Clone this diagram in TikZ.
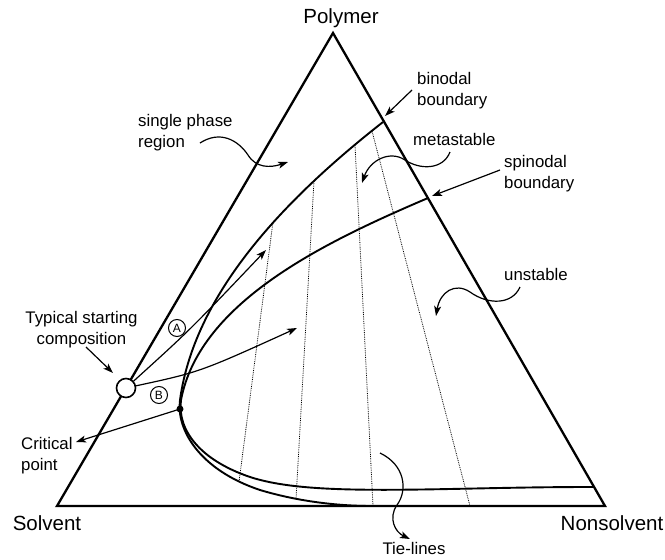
\documentclass[tikz,border=0pt]{standalone}
\usepackage{fontspec}
\setmainfont{Liberation Sans}
\usetikzlibrary{arrows.meta}

\tikzset{
  side/.style={line width=2.3pt},
  boundary/.style={line width=1.9pt},
  tieline/.style={densely dotted, line width=0.8pt},
  pointer/.style={line width=1.2pt, -{Stealth[length=10pt,width=7pt,inset=2.5pt]}},
  vertexlabel/.style={font=\fontsize{20.5}{24}\selectfont, inner sep=0pt},
  note/.style={font=\fontsize{16.8}{20.5}\selectfont, align=left, inner sep=0pt},
  pathmark/.style={circle, draw, line width=1pt, inner sep=0pt, minimum size=17pt, font=\fontsize{12}{12}\selectfont},
}

\begin{document}
\begin{tikzpicture}[x=1pt, y=-1pt]
    \useasboundingbox (0,0) rectangle (665,560);

    % Corners
    \coordinate (S) at (57,506);
    \coordinate (N) at (605,506);
    \coordinate (P) at (333,33);

    % Triangle
    \draw[side] (S) -- (P) -- (N) -- cycle;

    % Corner labels
    \node[vertexlabel, anchor=base] (polymer) at (341,23) {Polymer};
    \node[vertexlabel, anchor=base] (solvent) at (47,530) {Solvent};
    \node[vertexlabel, anchor=base] (nonsolvent) at (612,530) {Nonsolvent};

    % Tie-lines
    \draw[tieline] (273,222) -- (239,482);
    \draw[tieline] (314,181) -- (296,499);
    \draw[tieline] (355,145) -- (373,506);
    \draw[tieline] (372,131) -- (470,506);

    % Binodal
    \draw[boundary] (383,122) .. controls (290,195) and (195,290) .. (180,400)
        .. controls (176,430) and (200,470) .. (260,490)
        .. controls (300,502) and (340,506) .. (372,506);

    % Spinodal
    \draw[boundary] (428,198) .. controls (330,240) and (200,300) .. (181,400)
        .. controls (177,430) and (200,460) .. (250,477)
        .. controls (290,490) and (350,491) .. (450,489)
        .. controls (500,488) and (540,487) .. (593,487);

    % Critical point
    \coordinate (crit) at (180,409);
    \fill (crit) circle (3.5pt);

    % Starting composition and paths
    \node[circle, draw, line width=1.6pt, fill=white, minimum size=19pt, inner sep=0pt] (start) at (126,388) {};
    \node[pathmark] (markA) at (177,328) {A};
    \node[pathmark] (markB) at (159,395) {B};
    \coordinate (tipA) at (266,250);
    \coordinate (tipB) at (297,328);
    \draw[pointer] (start) .. controls (190,330) .. (tipA);
    \draw[pointer] (start) .. controls (200,372) .. (tipB);

    % Labels
    \node[note, anchor=base west] (binodal) at (417,105) {binodal\\boundary};
    \node[note, anchor=base west] (meta) at (413,145) {metastable};
    \node[note, anchor=base west] (spinodal) at (504,188) {spinodal\\boundary};
    \node[note, anchor=base west] (single) at (138,147) {single phase\\region};
    \node[note, anchor=base west] (unstable) at (504,280) {unstable};
    \node[note, anchor=base, align=center] (typical) at (81.5,344) {Typical starting\\composition};
    \node[note, anchor=base west] (critical) at (21,470) {Critical\\point};
    \node[note, anchor=base] (tielines) at (414,554) {Tie-lines};

    % Pointers
    \coordinate (binFrom) at (412,90);
    \coordinate (binTo) at (385,116);
    \draw[pointer] (binFrom) -- (binTo);

    \coordinate (spiFrom) at (500,170);
    \coordinate (spiTo) at (432,196);
    \draw[pointer] (spiFrom) -- (spiTo);

    \coordinate (sinFrom) at (200,143);
    \coordinate (sinTo) at (288,162);
    \draw[pointer] (sinFrom) .. controls (220,130) and (238,140) .. (248,155)
        .. controls (256,168) and (270,168) .. (sinTo);

    \coordinate (metFrom) at (450,152);
    \coordinate (metTo) at (362,183);
    \draw[pointer] (metFrom) .. controls (443,170) and (420,170) .. (405,160)
        .. controls (390,150) and (370,160) .. (metTo);

    \coordinate (unsFrom) at (520,287);
    \coordinate (unsTo) at (436,316);
    \draw[pointer] (unsFrom) .. controls (512,305) and (488,305) .. (470,292)
        .. controls (455,282) and (440,292) .. (unsTo);

    \coordinate (tieFrom) at (380,453);
    \coordinate (tieTo) at (410,539);
    \draw[pointer] (tieFrom) .. controls (405,465) and (408,490) .. (397,505)
        .. controls (388,518) and (395,532) .. (tieTo);

    \coordinate (typFrom) at (86,347);
    \coordinate (typTo) at (113,373);
    \draw[pointer] (typFrom) -- (typTo);

    \coordinate (criTo) at (76,442);
    \draw[pointer] (crit) -- (criTo);
\end{tikzpicture}
\end{document}
